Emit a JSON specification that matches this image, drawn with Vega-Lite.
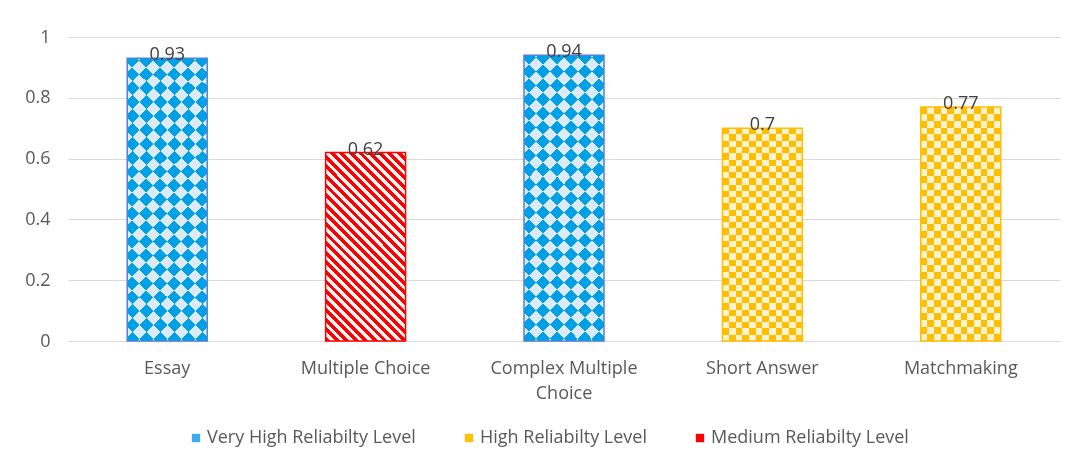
{
  "$schema": "https://vega.github.io/schema/vega-lite/v6.json",
  "width": 992,
  "height": 304,
  "autosize": "none",
  "padding": {"left": 68, "top": 37, "right": 13, "bottom": 129},
  "background": "white",
  "config": {
    "view": {"stroke": null},
    "font": "Open Sans"
  },
  "data": {
    "values": [
      {"type": "Essay", "value": 0.93, "level": "Very High Reliabilty Level"},
      {"type": "Multiple Choice", "value": 0.62, "level": "Medium Reliabilty Level"},
      {"type": "Complex Multiple Choice", "value": 0.94, "level": "Very High Reliabilty Level"},
      {"type": "Short Answer", "value": 0.7, "level": "High Reliabilty Level"},
      {"type": "Matchmaking", "value": 0.77, "level": "High Reliabilty Level"}
    ]
  },
  "encoding": {
    "x": {
      "field": "type", "type": "nominal", "sort": null,
      "scale": {"domain": ["Essay", "Multiple Choice", "Complex Multiple Choice", "Short Answer", "Matchmaking"], "paddingInner": 0.597, "paddingOuter": 0.2985},
      "axis": {"title": null, "labelAngle": 0, "domainColor": "#d9d9d9", "ticks": false, "labelPadding": 18, "labelFontSize": 18, "labelColor": "#595959", "labelLineHeight": 25, "labelLimit": 0, "labelFont": "Open Sans",
        "labelExpr": "datum.label == 'Complex Multiple Choice' ? ['Complex Multiple', 'Choice'] : datum.label"}
    },
    "y": {
      "field": "value", "type": "quantitative",
      "scale": {"domain": [0, 1]},
      "axis": {"title": null, "values": [0, 0.2, 0.4, 0.6, 0.8, 1], "format": "~g", "domain": false, "ticks": false, "labelPadding": 18, "gridColor": "#d9d9d9", "labelColor": "#595959", "labelFontSize": 18, "labelFont": "Open Sans"}
    }
  },
  "layer": [
    {
      "mark": {"type": "bar"},
      "encoding": {
        "color": {
          "field": "level", "type": "nominal",
          "scale": {"domain": ["Very High Reliabilty Level", "High Reliabilty Level", "Medium Reliabilty Level"], "range": ["#3fa9f0", "#ffc000", "#ff0000"]},
          "legend": {"title": null, "orient": "none", "legendX": 119, "legendY": 392, "direction": "horizontal", "symbolType": "square", "symbolSize": 70, "symbolStrokeWidth": 0, "labelFontSize": 18, "labelColor": "#595959", "labelFont": "Open Sans", "columnPadding": 44, "labelOffset": 2, "labelLimit": 0}
        }
      }
    },
    {
      "transform": [{"filter": "datum.level == 'Very High Reliabilty Level'"}],
      "mark": {"type": "bar", "fill": {"gradient": "linear", "x1": 0, "y1": 0, "x2": 0.3345, "y2": 1.1874, "stops": [
        {"offset": 0, "color": "#000"}, {"offset": 0.0385, "color": "#000"}, {"offset": 0.0385, "color": "#fff"}, {"offset": 0.0769, "color": "#fff"},
        {"offset": 0.0769, "color": "#000"}, {"offset": 0.1154, "color": "#000"}, {"offset": 0.1154, "color": "#fff"}, {"offset": 0.1538, "color": "#fff"},
        {"offset": 0.1538, "color": "#000"}, {"offset": 0.1923, "color": "#000"}, {"offset": 0.1923, "color": "#fff"}, {"offset": 0.2308, "color": "#fff"},
        {"offset": 0.2308, "color": "#000"}, {"offset": 0.2692, "color": "#000"}, {"offset": 0.2692, "color": "#fff"}, {"offset": 0.3077, "color": "#fff"},
        {"offset": 0.3077, "color": "#000"}, {"offset": 0.3462, "color": "#000"}, {"offset": 0.3462, "color": "#fff"}, {"offset": 0.3846, "color": "#fff"},
        {"offset": 0.3846, "color": "#000"}, {"offset": 0.4231, "color": "#000"}, {"offset": 0.4231, "color": "#fff"}, {"offset": 0.4615, "color": "#fff"},
        {"offset": 0.4615, "color": "#000"}, {"offset": 0.5, "color": "#000"}, {"offset": 0.5, "color": "#fff"}, {"offset": 0.5385, "color": "#fff"},
        {"offset": 0.5385, "color": "#000"}, {"offset": 0.5769, "color": "#000"}, {"offset": 0.5769, "color": "#fff"}, {"offset": 0.6154, "color": "#fff"},
        {"offset": 0.6154, "color": "#000"}, {"offset": 0.6538, "color": "#000"}, {"offset": 0.6538, "color": "#fff"}, {"offset": 0.6923, "color": "#fff"},
        {"offset": 0.6923, "color": "#000"}, {"offset": 0.7308, "color": "#000"}, {"offset": 0.7308, "color": "#fff"}, {"offset": 0.7692, "color": "#fff"},
        {"offset": 0.7692, "color": "#000"}, {"offset": 0.8077, "color": "#000"}, {"offset": 0.8077, "color": "#fff"}, {"offset": 0.8462, "color": "#fff"},
        {"offset": 0.8462, "color": "#000"}, {"offset": 0.8846, "color": "#000"}, {"offset": 0.8846, "color": "#fff"}, {"offset": 0.9231, "color": "#fff"},
        {"offset": 0.9231, "color": "#000"}, {"offset": 0.9615, "color": "#000"}, {"offset": 0.9615, "color": "#fff"}, {"offset": 1, "color": "#fff"}
      ]}},
      "encoding": {}
    },
    {
      "transform": [{"filter": "datum.level == 'Very High Reliabilty Level'"}],
      "mark": {"type": "bar", "blend": "difference", "fill": {"gradient": "linear", "x1": 0, "y1": 1, "x2": 0.3345, "y2": -0.1874, "stops": [
        {"offset": 0, "color": "#000"}, {"offset": 0.0385, "color": "#000"}, {"offset": 0.0385, "color": "#fff"}, {"offset": 0.0769, "color": "#fff"},
        {"offset": 0.0769, "color": "#000"}, {"offset": 0.1154, "color": "#000"}, {"offset": 0.1154, "color": "#fff"}, {"offset": 0.1538, "color": "#fff"},
        {"offset": 0.1538, "color": "#000"}, {"offset": 0.1923, "color": "#000"}, {"offset": 0.1923, "color": "#fff"}, {"offset": 0.2308, "color": "#fff"},
        {"offset": 0.2308, "color": "#000"}, {"offset": 0.2692, "color": "#000"}, {"offset": 0.2692, "color": "#fff"}, {"offset": 0.3077, "color": "#fff"},
        {"offset": 0.3077, "color": "#000"}, {"offset": 0.3462, "color": "#000"}, {"offset": 0.3462, "color": "#fff"}, {"offset": 0.3846, "color": "#fff"},
        {"offset": 0.3846, "color": "#000"}, {"offset": 0.4231, "color": "#000"}, {"offset": 0.4231, "color": "#fff"}, {"offset": 0.4615, "color": "#fff"},
        {"offset": 0.4615, "color": "#000"}, {"offset": 0.5, "color": "#000"}, {"offset": 0.5, "color": "#fff"}, {"offset": 0.5385, "color": "#fff"},
        {"offset": 0.5385, "color": "#000"}, {"offset": 0.5769, "color": "#000"}, {"offset": 0.5769, "color": "#fff"}, {"offset": 0.6154, "color": "#fff"},
        {"offset": 0.6154, "color": "#000"}, {"offset": 0.6538, "color": "#000"}, {"offset": 0.6538, "color": "#fff"}, {"offset": 0.6923, "color": "#fff"},
        {"offset": 0.6923, "color": "#000"}, {"offset": 0.7308, "color": "#000"}, {"offset": 0.7308, "color": "#fff"}, {"offset": 0.7692, "color": "#fff"},
        {"offset": 0.7692, "color": "#000"}, {"offset": 0.8077, "color": "#000"}, {"offset": 0.8077, "color": "#fff"}, {"offset": 0.8462, "color": "#fff"},
        {"offset": 0.8462, "color": "#000"}, {"offset": 0.8846, "color": "#000"}, {"offset": 0.8846, "color": "#fff"}, {"offset": 0.9231, "color": "#fff"},
        {"offset": 0.9231, "color": "#000"}, {"offset": 0.9615, "color": "#000"}, {"offset": 0.9615, "color": "#fff"}, {"offset": 1, "color": "#fff"}
      ]}},
      "encoding": {}
    },
    {
      "transform": [{"filter": "datum.level == 'Very High Reliabilty Level'"}],
      "mark": {"type": "bar", "blend": "screen", "fill": "rgb(0,174,239)"},
      "encoding": {}
    },
    {
      "transform": [{"filter": "datum.level == 'Very High Reliabilty Level'"}],
      "mark": {"type": "bar", "blend": "multiply", "fill": "rgb(220,234,247)"},
      "encoding": {}
    },
    {
      "transform": [{"filter": "datum.level == 'High Reliabilty Level'"}],
      "mark": {"type": "bar", "fill": {"gradient": "linear", "x1": 0, "y1": 0, "x2": 1, "y2": 0, "stops": [
        {"offset": 0, "color": "#000"}, {"offset": 0.0833, "color": "#000"}, {"offset": 0.0833, "color": "#fff"}, {"offset": 0.1667, "color": "#fff"},
        {"offset": 0.1667, "color": "#000"}, {"offset": 0.25, "color": "#000"}, {"offset": 0.25, "color": "#fff"}, {"offset": 0.3333, "color": "#fff"},
        {"offset": 0.3333, "color": "#000"}, {"offset": 0.4167, "color": "#000"}, {"offset": 0.4167, "color": "#fff"}, {"offset": 0.5, "color": "#fff"},
        {"offset": 0.5, "color": "#000"}, {"offset": 0.5833, "color": "#000"}, {"offset": 0.5833, "color": "#fff"}, {"offset": 0.6667, "color": "#fff"},
        {"offset": 0.6667, "color": "#000"}, {"offset": 0.75, "color": "#000"}, {"offset": 0.75, "color": "#fff"}, {"offset": 0.8333, "color": "#fff"},
        {"offset": 0.8333, "color": "#000"}, {"offset": 0.9167, "color": "#000"}, {"offset": 0.9167, "color": "#fff"}, {"offset": 1, "color": "#fff"}
      ]}},
      "encoding": {}
    },
    {
      "transform": [{"filter": "datum.level == 'High Reliabilty Level'"}],
      "mark": {"type": "bar", "blend": "difference", "fill": {"gradient": "linear", "x1": 0, "y1": 0, "x2": 0, "y2": 1, "stops": [
        {"offset": 0, "color": "#000"}, {"offset": 0.0294, "color": "#000"}, {"offset": 0.0294, "color": "#fff"}, {"offset": 0.0588, "color": "#fff"},
        {"offset": 0.0588, "color": "#000"}, {"offset": 0.0882, "color": "#000"}, {"offset": 0.0882, "color": "#fff"}, {"offset": 0.1176, "color": "#fff"},
        {"offset": 0.1176, "color": "#000"}, {"offset": 0.1471, "color": "#000"}, {"offset": 0.1471, "color": "#fff"}, {"offset": 0.1765, "color": "#fff"},
        {"offset": 0.1765, "color": "#000"}, {"offset": 0.2059, "color": "#000"}, {"offset": 0.2059, "color": "#fff"}, {"offset": 0.2353, "color": "#fff"},
        {"offset": 0.2353, "color": "#000"}, {"offset": 0.2647, "color": "#000"}, {"offset": 0.2647, "color": "#fff"}, {"offset": 0.2941, "color": "#fff"},
        {"offset": 0.2941, "color": "#000"}, {"offset": 0.3235, "color": "#000"}, {"offset": 0.3235, "color": "#fff"}, {"offset": 0.3529, "color": "#fff"},
        {"offset": 0.3529, "color": "#000"}, {"offset": 0.3824, "color": "#000"}, {"offset": 0.3824, "color": "#fff"}, {"offset": 0.4118, "color": "#fff"},
        {"offset": 0.4118, "color": "#000"}, {"offset": 0.4412, "color": "#000"}, {"offset": 0.4412, "color": "#fff"}, {"offset": 0.4706, "color": "#fff"},
        {"offset": 0.4706, "color": "#000"}, {"offset": 0.5, "color": "#000"}, {"offset": 0.5, "color": "#fff"}, {"offset": 0.5294, "color": "#fff"},
        {"offset": 0.5294, "color": "#000"}, {"offset": 0.5588, "color": "#000"}, {"offset": 0.5588, "color": "#fff"}, {"offset": 0.5882, "color": "#fff"},
        {"offset": 0.5882, "color": "#000"}, {"offset": 0.6176, "color": "#000"}, {"offset": 0.6176, "color": "#fff"}, {"offset": 0.6471, "color": "#fff"},
        {"offset": 0.6471, "color": "#000"}, {"offset": 0.6765, "color": "#000"}, {"offset": 0.6765, "color": "#fff"}, {"offset": 0.7059, "color": "#fff"},
        {"offset": 0.7059, "color": "#000"}, {"offset": 0.7353, "color": "#000"}, {"offset": 0.7353, "color": "#fff"}, {"offset": 0.7647, "color": "#fff"},
        {"offset": 0.7647, "color": "#000"}, {"offset": 0.7941, "color": "#000"}, {"offset": 0.7941, "color": "#fff"}, {"offset": 0.8235, "color": "#fff"},
        {"offset": 0.8235, "color": "#000"}, {"offset": 0.8529, "color": "#000"}, {"offset": 0.8529, "color": "#fff"}, {"offset": 0.8824, "color": "#fff"},
        {"offset": 0.8824, "color": "#000"}, {"offset": 0.9118, "color": "#000"}, {"offset": 0.9118, "color": "#fff"}, {"offset": 0.9412, "color": "#fff"},
        {"offset": 0.9412, "color": "#000"}, {"offset": 0.9706, "color": "#000"}, {"offset": 0.9706, "color": "#fff"}, {"offset": 1, "color": "#fff"}
      ]}},
      "encoding": {}
    },
    {
      "transform": [{"filter": "datum.level == 'High Reliabilty Level'"}],
      "mark": {"type": "bar", "blend": "screen", "fill": "rgb(255,202,0)"},
      "encoding": {}
    },
    {
      "transform": [{"filter": "datum.level == 'High Reliabilty Level'"}],
      "mark": {"type": "bar", "blend": "multiply", "fill": "rgb(255,242,204)"},
      "encoding": {}
    },
    {
      "transform": [{"filter": "datum.level == 'Medium Reliabilty Level'"}],
      "mark": {"type": "bar", "fill": {"gradient": "linear", "x1": 0, "y1": 1, "x2": 0.5123, "y2": -0.207, "stops": [
        {"offset": 0, "color": "#ff0000"}, {"offset": 0.0179, "color": "#ff0000"}, {"offset": 0.0179, "color": "#f4f4f4"}, {"offset": 0.0357, "color": "#f4f4f4"},
        {"offset": 0.0357, "color": "#ff0000"}, {"offset": 0.0536, "color": "#ff0000"}, {"offset": 0.0536, "color": "#f4f4f4"}, {"offset": 0.0714, "color": "#f4f4f4"},
        {"offset": 0.0714, "color": "#ff0000"}, {"offset": 0.0893, "color": "#ff0000"}, {"offset": 0.0893, "color": "#f4f4f4"}, {"offset": 0.1071, "color": "#f4f4f4"},
        {"offset": 0.1071, "color": "#ff0000"}, {"offset": 0.125, "color": "#ff0000"}, {"offset": 0.125, "color": "#f4f4f4"}, {"offset": 0.1429, "color": "#f4f4f4"},
        {"offset": 0.1429, "color": "#ff0000"}, {"offset": 0.1607, "color": "#ff0000"}, {"offset": 0.1607, "color": "#f4f4f4"}, {"offset": 0.1786, "color": "#f4f4f4"},
        {"offset": 0.1786, "color": "#ff0000"}, {"offset": 0.1964, "color": "#ff0000"}, {"offset": 0.1964, "color": "#f4f4f4"}, {"offset": 0.2143, "color": "#f4f4f4"},
        {"offset": 0.2143, "color": "#ff0000"}, {"offset": 0.2321, "color": "#ff0000"}, {"offset": 0.2321, "color": "#f4f4f4"}, {"offset": 0.25, "color": "#f4f4f4"},
        {"offset": 0.25, "color": "#ff0000"}, {"offset": 0.2679, "color": "#ff0000"}, {"offset": 0.2679, "color": "#f4f4f4"}, {"offset": 0.2857, "color": "#f4f4f4"},
        {"offset": 0.2857, "color": "#ff0000"}, {"offset": 0.3036, "color": "#ff0000"}, {"offset": 0.3036, "color": "#f4f4f4"}, {"offset": 0.3214, "color": "#f4f4f4"},
        {"offset": 0.3214, "color": "#ff0000"}, {"offset": 0.3393, "color": "#ff0000"}, {"offset": 0.3393, "color": "#f4f4f4"}, {"offset": 0.3571, "color": "#f4f4f4"},
        {"offset": 0.3571, "color": "#ff0000"}, {"offset": 0.375, "color": "#ff0000"}, {"offset": 0.375, "color": "#f4f4f4"}, {"offset": 0.3929, "color": "#f4f4f4"},
        {"offset": 0.3929, "color": "#ff0000"}, {"offset": 0.4107, "color": "#ff0000"}, {"offset": 0.4107, "color": "#f4f4f4"}, {"offset": 0.4286, "color": "#f4f4f4"},
        {"offset": 0.4286, "color": "#ff0000"}, {"offset": 0.4464, "color": "#ff0000"}, {"offset": 0.4464, "color": "#f4f4f4"}, {"offset": 0.4643, "color": "#f4f4f4"},
        {"offset": 0.4643, "color": "#ff0000"}, {"offset": 0.4821, "color": "#ff0000"}, {"offset": 0.4821, "color": "#f4f4f4"}, {"offset": 0.5, "color": "#f4f4f4"},
        {"offset": 0.5, "color": "#ff0000"}, {"offset": 0.5179, "color": "#ff0000"}, {"offset": 0.5179, "color": "#f4f4f4"}, {"offset": 0.5357, "color": "#f4f4f4"},
        {"offset": 0.5357, "color": "#ff0000"}, {"offset": 0.5536, "color": "#ff0000"}, {"offset": 0.5536, "color": "#f4f4f4"}, {"offset": 0.5714, "color": "#f4f4f4"},
        {"offset": 0.5714, "color": "#ff0000"}, {"offset": 0.5893, "color": "#ff0000"}, {"offset": 0.5893, "color": "#f4f4f4"}, {"offset": 0.6071, "color": "#f4f4f4"},
        {"offset": 0.6071, "color": "#ff0000"}, {"offset": 0.625, "color": "#ff0000"}, {"offset": 0.625, "color": "#f4f4f4"}, {"offset": 0.6429, "color": "#f4f4f4"},
        {"offset": 0.6429, "color": "#ff0000"}, {"offset": 0.6607, "color": "#ff0000"}, {"offset": 0.6607, "color": "#f4f4f4"}, {"offset": 0.6786, "color": "#f4f4f4"},
        {"offset": 0.6786, "color": "#ff0000"}, {"offset": 0.6964, "color": "#ff0000"}, {"offset": 0.6964, "color": "#f4f4f4"}, {"offset": 0.7143, "color": "#f4f4f4"},
        {"offset": 0.7143, "color": "#ff0000"}, {"offset": 0.7321, "color": "#ff0000"}, {"offset": 0.7321, "color": "#f4f4f4"}, {"offset": 0.75, "color": "#f4f4f4"},
        {"offset": 0.75, "color": "#ff0000"}, {"offset": 0.7679, "color": "#ff0000"}, {"offset": 0.7679, "color": "#f4f4f4"}, {"offset": 0.7857, "color": "#f4f4f4"},
        {"offset": 0.7857, "color": "#ff0000"}, {"offset": 0.8036, "color": "#ff0000"}, {"offset": 0.8036, "color": "#f4f4f4"}, {"offset": 0.8214, "color": "#f4f4f4"},
        {"offset": 0.8214, "color": "#ff0000"}, {"offset": 0.8393, "color": "#ff0000"}, {"offset": 0.8393, "color": "#f4f4f4"}, {"offset": 0.8571, "color": "#f4f4f4"},
        {"offset": 0.8571, "color": "#ff0000"}, {"offset": 0.875, "color": "#ff0000"}, {"offset": 0.875, "color": "#f4f4f4"}, {"offset": 0.8929, "color": "#f4f4f4"},
        {"offset": 0.8929, "color": "#ff0000"}, {"offset": 0.9107, "color": "#ff0000"}, {"offset": 0.9107, "color": "#f4f4f4"}, {"offset": 0.9286, "color": "#f4f4f4"},
        {"offset": 0.9286, "color": "#ff0000"}, {"offset": 0.9464, "color": "#ff0000"}, {"offset": 0.9464, "color": "#f4f4f4"}, {"offset": 0.9643, "color": "#f4f4f4"},
        {"offset": 0.9643, "color": "#ff0000"}, {"offset": 0.9821, "color": "#ff0000"}, {"offset": 0.9821, "color": "#f4f4f4"}, {"offset": 1, "color": "#f4f4f4"}
      ]}},
      "encoding": {}
    },
    {
      "mark": {"type": "bar", "fill": "transparent", "strokeWidth": 1.5},
      "encoding": {
        "stroke": {
          "field": "level", "type": "nominal", "legend": null,
          "scale": {"domain": ["Very High Reliabilty Level", "High Reliabilty Level", "Medium Reliabilty Level"], "range": ["#4f81d9", "#ffc000", "#ff0000"]}
        }
      }
    },
    {
      "mark": {"type": "text", "baseline": "middle", "dy": -3, "fontSize": 18, "color": "#404040", "font": "Open Sans"},
      "encoding": {"text": {"field": "value", "type": "quantitative"}}
    }
  ]
}
